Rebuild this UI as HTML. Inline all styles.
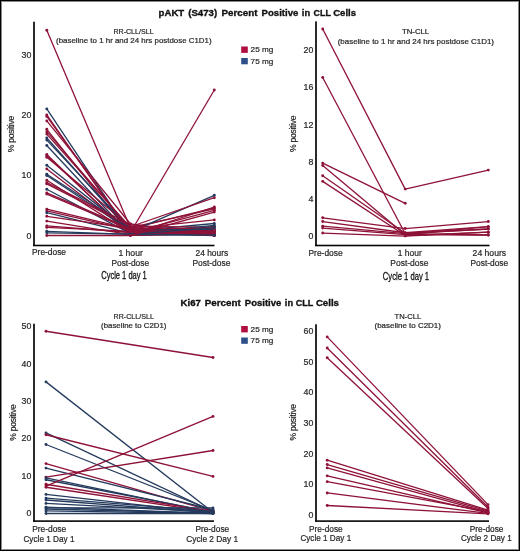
<!DOCTYPE html>
<html><head><meta charset="utf-8"><style>
html,body{margin:0;padding:0;background:#fff;}
body{width:520px;height:551px;overflow:hidden;position:relative;}
svg{position:absolute;left:0;top:0;font-family:"Liberation Sans", sans-serif;}
text{filter:grayscale(1);}
.t{stroke:#262626;stroke-width:0.2px;}
.b{position:absolute;background:#000;}
.g{position:absolute;background:#8a8a8a;}
</style></head><body>
<svg width="520" height="551" viewBox="0 0 520 551">
<rect x="0" y="0" width="520" height="551" fill="#fff"/>
<line x1="46.80" y1="108.90" x2="130.50" y2="234.66" stroke="#253b5e" stroke-width="1.3"/>
<line x1="130.50" y1="234.66" x2="214.30" y2="226.50" stroke="#253b5e" stroke-width="1.3"/>
<circle cx="46.80" cy="108.90" r="1.45" fill="#253b5e"/>
<circle cx="130.50" cy="234.66" r="1.45" fill="#253b5e"/>
<circle cx="214.30" cy="226.50" r="1.45" fill="#253b5e"/>
<line x1="46.80" y1="114.90" x2="130.50" y2="234.84" stroke="#8e1238" stroke-width="1.3"/>
<line x1="130.50" y1="234.84" x2="214.30" y2="233.10" stroke="#8e1238" stroke-width="1.3"/>
<circle cx="46.80" cy="114.90" r="1.45" fill="#8e1238"/>
<circle cx="130.50" cy="234.84" r="1.45" fill="#8e1238"/>
<circle cx="214.30" cy="233.10" r="1.45" fill="#8e1238"/>
<line x1="46.80" y1="116.40" x2="130.50" y2="232.80" stroke="#8e1238" stroke-width="1.3"/>
<line x1="130.50" y1="232.80" x2="214.30" y2="210.30" stroke="#8e1238" stroke-width="1.3"/>
<circle cx="46.80" cy="116.40" r="1.45" fill="#8e1238"/>
<circle cx="130.50" cy="232.80" r="1.45" fill="#8e1238"/>
<circle cx="214.30" cy="210.30" r="1.45" fill="#8e1238"/>
<line x1="46.80" y1="120.90" x2="130.50" y2="223.98" stroke="#8e1238" stroke-width="1.3"/>
<line x1="130.50" y1="223.98" x2="214.30" y2="234.90" stroke="#8e1238" stroke-width="1.3"/>
<circle cx="46.80" cy="120.90" r="1.45" fill="#8e1238"/>
<circle cx="130.50" cy="223.98" r="1.45" fill="#8e1238"/>
<circle cx="214.30" cy="234.90" r="1.45" fill="#8e1238"/>
<line x1="46.80" y1="129.30" x2="130.50" y2="234.30" stroke="#8e1238" stroke-width="1.3"/>
<line x1="130.50" y1="234.30" x2="214.30" y2="207.00" stroke="#8e1238" stroke-width="1.3"/>
<circle cx="46.80" cy="129.30" r="1.45" fill="#8e1238"/>
<circle cx="130.50" cy="234.30" r="1.45" fill="#8e1238"/>
<circle cx="214.30" cy="207.00" r="1.45" fill="#8e1238"/>
<line x1="46.80" y1="131.70" x2="130.50" y2="228.60" stroke="#8e1238" stroke-width="1.3"/>
<line x1="130.50" y1="228.60" x2="214.30" y2="207.90" stroke="#8e1238" stroke-width="1.3"/>
<circle cx="46.80" cy="131.70" r="1.45" fill="#8e1238"/>
<circle cx="130.50" cy="228.60" r="1.45" fill="#8e1238"/>
<circle cx="214.30" cy="207.90" r="1.45" fill="#8e1238"/>
<line x1="46.80" y1="134.10" x2="130.50" y2="227.52" stroke="#8e1238" stroke-width="1.3"/>
<line x1="130.50" y1="227.52" x2="214.30" y2="208.80" stroke="#8e1238" stroke-width="1.3"/>
<circle cx="46.80" cy="134.10" r="1.45" fill="#8e1238"/>
<circle cx="130.50" cy="227.52" r="1.45" fill="#8e1238"/>
<circle cx="214.30" cy="208.80" r="1.45" fill="#8e1238"/>
<line x1="46.80" y1="138.00" x2="130.50" y2="231.96" stroke="#253b5e" stroke-width="1.3"/>
<line x1="130.50" y1="231.96" x2="214.30" y2="195.30" stroke="#253b5e" stroke-width="1.3"/>
<circle cx="46.80" cy="138.00" r="1.45" fill="#253b5e"/>
<circle cx="130.50" cy="231.96" r="1.45" fill="#253b5e"/>
<circle cx="214.30" cy="195.30" r="1.45" fill="#253b5e"/>
<line x1="46.80" y1="140.10" x2="130.50" y2="229.20" stroke="#253b5e" stroke-width="1.3"/>
<line x1="130.50" y1="229.20" x2="214.30" y2="230.70" stroke="#253b5e" stroke-width="1.3"/>
<circle cx="46.80" cy="140.10" r="1.45" fill="#253b5e"/>
<circle cx="130.50" cy="229.20" r="1.45" fill="#253b5e"/>
<circle cx="214.30" cy="230.70" r="1.45" fill="#253b5e"/>
<line x1="46.80" y1="145.50" x2="130.50" y2="235.26" stroke="#253b5e" stroke-width="1.3"/>
<line x1="130.50" y1="235.26" x2="214.30" y2="234.30" stroke="#253b5e" stroke-width="1.3"/>
<circle cx="46.80" cy="145.50" r="1.45" fill="#253b5e"/>
<circle cx="130.50" cy="235.26" r="1.45" fill="#253b5e"/>
<circle cx="214.30" cy="234.30" r="1.45" fill="#253b5e"/>
<line x1="46.80" y1="154.50" x2="130.50" y2="235.26" stroke="#8e1238" stroke-width="1.3"/>
<line x1="130.50" y1="235.26" x2="214.30" y2="233.70" stroke="#8e1238" stroke-width="1.3"/>
<circle cx="46.80" cy="154.50" r="1.45" fill="#8e1238"/>
<circle cx="130.50" cy="235.26" r="1.45" fill="#8e1238"/>
<circle cx="214.30" cy="233.70" r="1.45" fill="#8e1238"/>
<line x1="46.80" y1="155.70" x2="130.50" y2="234.06" stroke="#8e1238" stroke-width="1.3"/>
<line x1="130.50" y1="234.06" x2="214.30" y2="231.30" stroke="#8e1238" stroke-width="1.3"/>
<circle cx="46.80" cy="155.70" r="1.45" fill="#8e1238"/>
<circle cx="130.50" cy="234.06" r="1.45" fill="#8e1238"/>
<circle cx="214.30" cy="231.30" r="1.45" fill="#8e1238"/>
<line x1="46.80" y1="157.20" x2="130.50" y2="226.74" stroke="#8e1238" stroke-width="1.3"/>
<line x1="130.50" y1="226.74" x2="214.30" y2="197.70" stroke="#8e1238" stroke-width="1.3"/>
<circle cx="46.80" cy="157.20" r="1.45" fill="#8e1238"/>
<circle cx="130.50" cy="226.74" r="1.45" fill="#8e1238"/>
<circle cx="214.30" cy="197.70" r="1.45" fill="#8e1238"/>
<line x1="46.80" y1="165.30" x2="130.50" y2="231.12" stroke="#253b5e" stroke-width="1.3"/>
<line x1="130.50" y1="231.12" x2="214.30" y2="223.50" stroke="#253b5e" stroke-width="1.3"/>
<circle cx="46.80" cy="165.30" r="1.45" fill="#253b5e"/>
<circle cx="130.50" cy="231.12" r="1.45" fill="#253b5e"/>
<circle cx="214.30" cy="223.50" r="1.45" fill="#253b5e"/>
<line x1="46.80" y1="168.90" x2="130.50" y2="232.74" stroke="#8e1238" stroke-width="1.3"/>
<line x1="130.50" y1="232.74" x2="214.30" y2="230.10" stroke="#8e1238" stroke-width="1.3"/>
<circle cx="46.80" cy="168.90" r="1.45" fill="#8e1238"/>
<circle cx="130.50" cy="232.74" r="1.45" fill="#8e1238"/>
<circle cx="214.30" cy="230.10" r="1.45" fill="#8e1238"/>
<line x1="46.80" y1="174.30" x2="130.50" y2="228.48" stroke="#253b5e" stroke-width="1.3"/>
<line x1="130.50" y1="228.48" x2="214.30" y2="232.50" stroke="#253b5e" stroke-width="1.3"/>
<circle cx="46.80" cy="174.30" r="1.45" fill="#253b5e"/>
<circle cx="130.50" cy="228.48" r="1.45" fill="#253b5e"/>
<circle cx="214.30" cy="232.50" r="1.45" fill="#253b5e"/>
<line x1="46.80" y1="175.50" x2="130.50" y2="230.76" stroke="#253b5e" stroke-width="1.3"/>
<line x1="130.50" y1="230.76" x2="214.30" y2="229.50" stroke="#253b5e" stroke-width="1.3"/>
<circle cx="46.80" cy="175.50" r="1.45" fill="#253b5e"/>
<circle cx="130.50" cy="230.76" r="1.45" fill="#253b5e"/>
<circle cx="214.30" cy="229.50" r="1.45" fill="#253b5e"/>
<line x1="46.80" y1="180.30" x2="130.50" y2="232.92" stroke="#8e1238" stroke-width="1.3"/>
<line x1="130.50" y1="232.92" x2="214.30" y2="232.50" stroke="#8e1238" stroke-width="1.3"/>
<circle cx="46.80" cy="180.30" r="1.45" fill="#8e1238"/>
<circle cx="130.50" cy="232.92" r="1.45" fill="#8e1238"/>
<circle cx="214.30" cy="232.50" r="1.45" fill="#8e1238"/>
<line x1="46.80" y1="182.70" x2="130.50" y2="224.46" stroke="#8e1238" stroke-width="1.3"/>
<line x1="130.50" y1="224.46" x2="214.30" y2="235.50" stroke="#8e1238" stroke-width="1.3"/>
<circle cx="46.80" cy="182.70" r="1.45" fill="#8e1238"/>
<circle cx="130.50" cy="224.46" r="1.45" fill="#8e1238"/>
<circle cx="214.30" cy="235.50" r="1.45" fill="#8e1238"/>
<line x1="46.80" y1="183.90" x2="130.50" y2="226.38" stroke="#8e1238" stroke-width="1.3"/>
<line x1="130.50" y1="226.38" x2="214.30" y2="227.10" stroke="#8e1238" stroke-width="1.3"/>
<circle cx="46.80" cy="183.90" r="1.45" fill="#8e1238"/>
<circle cx="130.50" cy="226.38" r="1.45" fill="#8e1238"/>
<circle cx="214.30" cy="227.10" r="1.45" fill="#8e1238"/>
<line x1="46.80" y1="189.30" x2="130.50" y2="233.64" stroke="#253b5e" stroke-width="1.3"/>
<line x1="130.50" y1="233.64" x2="214.30" y2="235.50" stroke="#253b5e" stroke-width="1.3"/>
<circle cx="46.80" cy="189.30" r="1.45" fill="#253b5e"/>
<circle cx="130.50" cy="233.64" r="1.45" fill="#253b5e"/>
<circle cx="214.30" cy="235.50" r="1.45" fill="#253b5e"/>
<line x1="46.80" y1="192.90" x2="130.50" y2="228.72" stroke="#8e1238" stroke-width="1.3"/>
<line x1="130.50" y1="228.72" x2="214.30" y2="219.90" stroke="#8e1238" stroke-width="1.3"/>
<circle cx="46.80" cy="192.90" r="1.45" fill="#8e1238"/>
<circle cx="130.50" cy="228.72" r="1.45" fill="#8e1238"/>
<circle cx="214.30" cy="219.90" r="1.45" fill="#8e1238"/>
<line x1="46.80" y1="194.10" x2="130.50" y2="229.56" stroke="#8e1238" stroke-width="1.3"/>
<line x1="130.50" y1="229.56" x2="214.30" y2="231.90" stroke="#8e1238" stroke-width="1.3"/>
<circle cx="46.80" cy="194.10" r="1.45" fill="#8e1238"/>
<circle cx="130.50" cy="229.56" r="1.45" fill="#8e1238"/>
<circle cx="214.30" cy="231.90" r="1.45" fill="#8e1238"/>
<line x1="46.80" y1="209.10" x2="130.50" y2="229.20" stroke="#8e1238" stroke-width="1.3"/>
<line x1="130.50" y1="229.20" x2="214.30" y2="234.60" stroke="#8e1238" stroke-width="1.3"/>
<circle cx="46.80" cy="209.10" r="1.45" fill="#8e1238"/>
<circle cx="130.50" cy="229.20" r="1.45" fill="#8e1238"/>
<circle cx="214.30" cy="234.60" r="1.45" fill="#8e1238"/>
<line x1="46.80" y1="210.90" x2="130.50" y2="230.22" stroke="#8e1238" stroke-width="1.3"/>
<line x1="130.50" y1="230.22" x2="214.30" y2="235.50" stroke="#8e1238" stroke-width="1.3"/>
<circle cx="46.80" cy="210.90" r="1.45" fill="#8e1238"/>
<circle cx="130.50" cy="230.22" r="1.45" fill="#8e1238"/>
<circle cx="214.30" cy="235.50" r="1.45" fill="#8e1238"/>
<line x1="46.80" y1="212.70" x2="130.50" y2="233.40" stroke="#253b5e" stroke-width="1.3"/>
<line x1="130.50" y1="233.40" x2="214.30" y2="225.30" stroke="#253b5e" stroke-width="1.3"/>
<circle cx="46.80" cy="212.70" r="1.45" fill="#253b5e"/>
<circle cx="130.50" cy="233.40" r="1.45" fill="#253b5e"/>
<circle cx="214.30" cy="225.30" r="1.45" fill="#253b5e"/>
<line x1="46.80" y1="216.30" x2="130.50" y2="228.42" stroke="#8e1238" stroke-width="1.3"/>
<line x1="130.50" y1="228.42" x2="214.30" y2="228.30" stroke="#8e1238" stroke-width="1.3"/>
<circle cx="46.80" cy="216.30" r="1.45" fill="#8e1238"/>
<circle cx="130.50" cy="228.42" r="1.45" fill="#8e1238"/>
<circle cx="214.30" cy="228.30" r="1.45" fill="#8e1238"/>
<line x1="46.80" y1="221.10" x2="130.50" y2="234.66" stroke="#8e1238" stroke-width="1.3"/>
<line x1="130.50" y1="234.66" x2="214.30" y2="234.30" stroke="#8e1238" stroke-width="1.3"/>
<circle cx="46.80" cy="221.10" r="1.45" fill="#8e1238"/>
<circle cx="130.50" cy="234.66" r="1.45" fill="#8e1238"/>
<circle cx="214.30" cy="234.30" r="1.45" fill="#8e1238"/>
<line x1="46.80" y1="225.90" x2="130.50" y2="232.50" stroke="#8e1238" stroke-width="1.3"/>
<line x1="130.50" y1="232.50" x2="214.30" y2="235.20" stroke="#8e1238" stroke-width="1.3"/>
<circle cx="46.80" cy="225.90" r="1.45" fill="#8e1238"/>
<circle cx="130.50" cy="232.50" r="1.45" fill="#8e1238"/>
<circle cx="214.30" cy="235.20" r="1.45" fill="#8e1238"/>
<line x1="46.80" y1="227.40" x2="130.50" y2="231.42" stroke="#8e1238" stroke-width="1.3"/>
<line x1="130.50" y1="231.42" x2="214.30" y2="230.70" stroke="#8e1238" stroke-width="1.3"/>
<circle cx="46.80" cy="227.40" r="1.45" fill="#8e1238"/>
<circle cx="130.50" cy="231.42" r="1.45" fill="#8e1238"/>
<circle cx="214.30" cy="230.70" r="1.45" fill="#8e1238"/>
<line x1="46.80" y1="231.30" x2="130.50" y2="234.42" stroke="#253b5e" stroke-width="1.3"/>
<line x1="130.50" y1="234.42" x2="214.30" y2="227.70" stroke="#253b5e" stroke-width="1.3"/>
<circle cx="46.80" cy="231.30" r="1.45" fill="#253b5e"/>
<circle cx="130.50" cy="234.42" r="1.45" fill="#253b5e"/>
<circle cx="214.30" cy="227.70" r="1.45" fill="#253b5e"/>
<line x1="46.80" y1="232.80" x2="130.50" y2="234.12" stroke="#253b5e" stroke-width="1.3"/>
<line x1="130.50" y1="234.12" x2="214.30" y2="235.15" stroke="#253b5e" stroke-width="1.3"/>
<circle cx="46.80" cy="232.80" r="1.45" fill="#253b5e"/>
<circle cx="130.50" cy="234.12" r="1.45" fill="#253b5e"/>
<circle cx="214.30" cy="235.15" r="1.45" fill="#253b5e"/>
<line x1="46.80" y1="235.50" x2="130.50" y2="235.50" stroke="#8e1238" stroke-width="1.3"/>
<line x1="130.50" y1="235.50" x2="214.30" y2="212.10" stroke="#8e1238" stroke-width="1.3"/>
<circle cx="46.80" cy="235.50" r="1.45" fill="#8e1238"/>
<circle cx="130.50" cy="235.50" r="1.45" fill="#8e1238"/>
<circle cx="214.30" cy="212.10" r="1.45" fill="#8e1238"/>
<line x1="46.80" y1="30.30" x2="130.50" y2="228.30" stroke="#8e1238" stroke-width="1.3"/>
<circle cx="46.80" cy="30.30" r="1.45" fill="#8e1238"/>
<circle cx="130.50" cy="228.30" r="1.45" fill="#8e1238"/>
<line x1="130.50" y1="232.50" x2="214.30" y2="90.00" stroke="#8e1238" stroke-width="1.3"/>
<circle cx="214.30" cy="90.00" r="1.45" fill="#8e1238"/>
<line x1="322.70" y1="28.93" x2="405.20" y2="189.10" stroke="#8e1238" stroke-width="1.3"/>
<line x1="405.20" y1="189.10" x2="488.30" y2="170.12" stroke="#8e1238" stroke-width="1.3"/>
<circle cx="322.70" cy="28.93" r="1.45" fill="#8e1238"/>
<circle cx="405.20" cy="189.10" r="1.45" fill="#8e1238"/>
<circle cx="488.30" cy="170.12" r="1.45" fill="#8e1238"/>
<line x1="322.70" y1="77.55" x2="405.20" y2="233.69" stroke="#8e1238" stroke-width="1.3"/>
<line x1="405.20" y1="233.69" x2="488.30" y2="235.00" stroke="#8e1238" stroke-width="1.3"/>
<circle cx="322.70" cy="77.55" r="1.45" fill="#8e1238"/>
<circle cx="405.20" cy="233.69" r="1.45" fill="#8e1238"/>
<circle cx="488.30" cy="235.00" r="1.45" fill="#8e1238"/>
<line x1="322.70" y1="163.10" x2="405.20" y2="203.31" stroke="#8e1238" stroke-width="1.3"/>
<circle cx="322.70" cy="163.10" r="1.45" fill="#8e1238"/>
<circle cx="405.20" cy="203.31" r="1.45" fill="#8e1238"/>
<line x1="322.70" y1="165.44" x2="405.20" y2="234.63" stroke="#8e1238" stroke-width="1.3"/>
<line x1="405.20" y1="234.63" x2="488.30" y2="226.68" stroke="#8e1238" stroke-width="1.3"/>
<circle cx="322.70" cy="165.44" r="1.45" fill="#8e1238"/>
<circle cx="405.20" cy="234.63" r="1.45" fill="#8e1238"/>
<circle cx="488.30" cy="226.68" r="1.45" fill="#8e1238"/>
<line x1="322.70" y1="175.72" x2="405.20" y2="233.23" stroke="#8e1238" stroke-width="1.3"/>
<line x1="405.20" y1="233.23" x2="488.30" y2="229.02" stroke="#8e1238" stroke-width="1.3"/>
<circle cx="322.70" cy="175.72" r="1.45" fill="#8e1238"/>
<circle cx="405.20" cy="233.23" r="1.45" fill="#8e1238"/>
<circle cx="488.30" cy="229.02" r="1.45" fill="#8e1238"/>
<line x1="322.70" y1="181.34" x2="405.20" y2="235.56" stroke="#8e1238" stroke-width="1.3"/>
<line x1="405.20" y1="235.56" x2="488.30" y2="232.20" stroke="#8e1238" stroke-width="1.3"/>
<circle cx="322.70" cy="181.34" r="1.45" fill="#8e1238"/>
<circle cx="405.20" cy="235.56" r="1.45" fill="#8e1238"/>
<circle cx="488.30" cy="232.20" r="1.45" fill="#8e1238"/>
<line x1="322.70" y1="217.80" x2="405.20" y2="228.55" stroke="#8e1238" stroke-width="1.3"/>
<line x1="405.20" y1="228.55" x2="488.30" y2="221.54" stroke="#8e1238" stroke-width="1.3"/>
<circle cx="322.70" cy="217.80" r="1.45" fill="#8e1238"/>
<circle cx="405.20" cy="228.55" r="1.45" fill="#8e1238"/>
<circle cx="488.30" cy="221.54" r="1.45" fill="#8e1238"/>
<line x1="322.70" y1="221.54" x2="405.20" y2="232.76" stroke="#8e1238" stroke-width="1.3"/>
<line x1="405.20" y1="232.76" x2="488.30" y2="226.68" stroke="#8e1238" stroke-width="1.3"/>
<circle cx="322.70" cy="221.54" r="1.45" fill="#8e1238"/>
<circle cx="405.20" cy="232.76" r="1.45" fill="#8e1238"/>
<circle cx="488.30" cy="226.68" r="1.45" fill="#8e1238"/>
<line x1="322.70" y1="226.22" x2="405.20" y2="233.69" stroke="#8e1238" stroke-width="1.3"/>
<line x1="405.20" y1="233.69" x2="488.30" y2="229.02" stroke="#8e1238" stroke-width="1.3"/>
<circle cx="322.70" cy="226.22" r="1.45" fill="#8e1238"/>
<circle cx="405.20" cy="233.69" r="1.45" fill="#8e1238"/>
<circle cx="488.30" cy="229.02" r="1.45" fill="#8e1238"/>
<line x1="322.70" y1="228.09" x2="405.20" y2="234.63" stroke="#8e1238" stroke-width="1.3"/>
<line x1="405.20" y1="234.63" x2="488.30" y2="235.00" stroke="#8e1238" stroke-width="1.3"/>
<circle cx="322.70" cy="228.09" r="1.45" fill="#8e1238"/>
<circle cx="405.20" cy="234.63" r="1.45" fill="#8e1238"/>
<circle cx="488.30" cy="235.00" r="1.45" fill="#8e1238"/>
<line x1="322.70" y1="233.04" x2="405.20" y2="236.03" stroke="#8e1238" stroke-width="1.3"/>
<line x1="405.20" y1="236.03" x2="488.30" y2="232.20" stroke="#8e1238" stroke-width="1.3"/>
<circle cx="322.70" cy="233.04" r="1.45" fill="#8e1238"/>
<circle cx="405.20" cy="236.03" r="1.45" fill="#8e1238"/>
<circle cx="488.30" cy="232.20" r="1.45" fill="#8e1238"/>
<line x1="46.00" y1="331.25" x2="213.00" y2="357.50" stroke="#8e1238" stroke-width="1.3"/>
<circle cx="46.00" cy="331.25" r="1.45" fill="#8e1238"/>
<circle cx="213.00" cy="357.50" r="1.45" fill="#8e1238"/>
<line x1="46.00" y1="381.88" x2="213.00" y2="512.38" stroke="#253b5e" stroke-width="1.3"/>
<circle cx="46.00" cy="381.88" r="1.45" fill="#253b5e"/>
<circle cx="213.00" cy="512.38" r="1.45" fill="#253b5e"/>
<line x1="46.00" y1="432.88" x2="213.00" y2="511.62" stroke="#253b5e" stroke-width="1.3"/>
<circle cx="46.00" cy="432.88" r="1.45" fill="#253b5e"/>
<circle cx="213.00" cy="511.62" r="1.45" fill="#253b5e"/>
<line x1="46.00" y1="434.75" x2="213.00" y2="476.38" stroke="#8e1238" stroke-width="1.3"/>
<circle cx="46.00" cy="434.75" r="1.45" fill="#8e1238"/>
<circle cx="213.00" cy="476.38" r="1.45" fill="#8e1238"/>
<line x1="46.00" y1="444.50" x2="213.00" y2="510.50" stroke="#253b5e" stroke-width="1.3"/>
<circle cx="46.00" cy="444.50" r="1.45" fill="#253b5e"/>
<circle cx="213.00" cy="510.50" r="1.45" fill="#253b5e"/>
<line x1="46.00" y1="463.62" x2="213.00" y2="511.25" stroke="#8e1238" stroke-width="1.3"/>
<circle cx="46.00" cy="463.62" r="1.45" fill="#8e1238"/>
<circle cx="213.00" cy="511.25" r="1.45" fill="#8e1238"/>
<line x1="46.00" y1="468.12" x2="213.00" y2="509.75" stroke="#253b5e" stroke-width="1.3"/>
<circle cx="46.00" cy="468.12" r="1.45" fill="#253b5e"/>
<circle cx="213.00" cy="509.75" r="1.45" fill="#253b5e"/>
<line x1="46.00" y1="477.12" x2="213.00" y2="450.50" stroke="#8e1238" stroke-width="1.3"/>
<circle cx="46.00" cy="477.12" r="1.45" fill="#8e1238"/>
<circle cx="213.00" cy="450.50" r="1.45" fill="#8e1238"/>
<line x1="46.00" y1="477.88" x2="213.00" y2="512.75" stroke="#253b5e" stroke-width="1.3"/>
<circle cx="46.00" cy="477.88" r="1.45" fill="#253b5e"/>
<circle cx="213.00" cy="512.75" r="1.45" fill="#253b5e"/>
<line x1="46.00" y1="479.75" x2="213.00" y2="512.00" stroke="#253b5e" stroke-width="1.3"/>
<circle cx="46.00" cy="479.75" r="1.45" fill="#253b5e"/>
<circle cx="213.00" cy="512.00" r="1.45" fill="#253b5e"/>
<line x1="46.00" y1="484.25" x2="213.00" y2="511.62" stroke="#8e1238" stroke-width="1.3"/>
<circle cx="46.00" cy="484.25" r="1.45" fill="#8e1238"/>
<circle cx="213.00" cy="511.62" r="1.45" fill="#8e1238"/>
<line x1="46.00" y1="486.12" x2="213.00" y2="416.38" stroke="#8e1238" stroke-width="1.3"/>
<circle cx="46.00" cy="486.12" r="1.45" fill="#8e1238"/>
<circle cx="213.00" cy="416.38" r="1.45" fill="#8e1238"/>
<line x1="46.00" y1="487.25" x2="213.00" y2="512.38" stroke="#8e1238" stroke-width="1.3"/>
<circle cx="46.00" cy="487.25" r="1.45" fill="#8e1238"/>
<circle cx="213.00" cy="512.38" r="1.45" fill="#8e1238"/>
<line x1="46.00" y1="494.38" x2="213.00" y2="513.12" stroke="#253b5e" stroke-width="1.3"/>
<circle cx="46.00" cy="494.38" r="1.45" fill="#253b5e"/>
<circle cx="213.00" cy="513.12" r="1.45" fill="#253b5e"/>
<line x1="46.00" y1="498.12" x2="213.00" y2="511.25" stroke="#253b5e" stroke-width="1.3"/>
<circle cx="46.00" cy="498.12" r="1.45" fill="#253b5e"/>
<circle cx="213.00" cy="511.25" r="1.45" fill="#253b5e"/>
<line x1="46.00" y1="500.00" x2="213.00" y2="512.75" stroke="#253b5e" stroke-width="1.3"/>
<circle cx="46.00" cy="500.00" r="1.45" fill="#253b5e"/>
<circle cx="213.00" cy="512.75" r="1.45" fill="#253b5e"/>
<line x1="46.00" y1="503.38" x2="213.00" y2="512.00" stroke="#253b5e" stroke-width="1.3"/>
<circle cx="46.00" cy="503.38" r="1.45" fill="#253b5e"/>
<circle cx="213.00" cy="512.00" r="1.45" fill="#253b5e"/>
<line x1="46.00" y1="507.12" x2="213.00" y2="513.50" stroke="#253b5e" stroke-width="1.3"/>
<circle cx="46.00" cy="507.12" r="1.45" fill="#253b5e"/>
<circle cx="213.00" cy="513.50" r="1.45" fill="#253b5e"/>
<line x1="46.00" y1="509.00" x2="213.00" y2="513.12" stroke="#253b5e" stroke-width="1.3"/>
<circle cx="46.00" cy="509.00" r="1.45" fill="#253b5e"/>
<circle cx="213.00" cy="513.12" r="1.45" fill="#253b5e"/>
<line x1="46.00" y1="510.88" x2="213.00" y2="513.50" stroke="#253b5e" stroke-width="1.3"/>
<circle cx="46.00" cy="510.88" r="1.45" fill="#253b5e"/>
<circle cx="213.00" cy="513.50" r="1.45" fill="#253b5e"/>
<line x1="46.00" y1="513.50" x2="213.00" y2="513.50" stroke="#253b5e" stroke-width="1.3"/>
<circle cx="46.00" cy="513.50" r="1.45" fill="#253b5e"/>
<circle cx="213.00" cy="513.50" r="1.45" fill="#253b5e"/>
<line x1="46.00" y1="507.88" x2="213.00" y2="507.88" stroke="#253b5e" stroke-width="1.3"/>
<circle cx="46.00" cy="507.88" r="1.45" fill="#253b5e"/>
<circle cx="213.00" cy="507.88" r="1.45" fill="#253b5e"/>
<line x1="327.20" y1="336.91" x2="488.00" y2="504.60" stroke="#8e1238" stroke-width="1.3"/>
<circle cx="327.20" cy="336.91" r="1.45" fill="#8e1238"/>
<circle cx="488.00" cy="504.60" r="1.45" fill="#8e1238"/>
<line x1="327.20" y1="347.93" x2="488.00" y2="507.05" stroke="#8e1238" stroke-width="1.3"/>
<circle cx="327.20" cy="347.93" r="1.45" fill="#8e1238"/>
<circle cx="488.00" cy="507.05" r="1.45" fill="#8e1238"/>
<line x1="327.20" y1="357.72" x2="488.00" y2="508.58" stroke="#8e1238" stroke-width="1.3"/>
<circle cx="327.20" cy="357.72" r="1.45" fill="#8e1238"/>
<circle cx="488.00" cy="508.58" r="1.45" fill="#8e1238"/>
<line x1="327.20" y1="460.23" x2="488.00" y2="510.11" stroke="#8e1238" stroke-width="1.3"/>
<circle cx="327.20" cy="460.23" r="1.45" fill="#8e1238"/>
<circle cx="488.00" cy="510.11" r="1.45" fill="#8e1238"/>
<line x1="327.20" y1="464.52" x2="488.00" y2="511.03" stroke="#8e1238" stroke-width="1.3"/>
<circle cx="327.20" cy="464.52" r="1.45" fill="#8e1238"/>
<circle cx="488.00" cy="511.03" r="1.45" fill="#8e1238"/>
<line x1="327.20" y1="467.88" x2="488.00" y2="512.25" stroke="#8e1238" stroke-width="1.3"/>
<circle cx="327.20" cy="467.88" r="1.45" fill="#8e1238"/>
<circle cx="488.00" cy="512.25" r="1.45" fill="#8e1238"/>
<line x1="327.20" y1="475.84" x2="488.00" y2="512.86" stroke="#8e1238" stroke-width="1.3"/>
<circle cx="327.20" cy="475.84" r="1.45" fill="#8e1238"/>
<circle cx="488.00" cy="512.86" r="1.45" fill="#8e1238"/>
<line x1="327.20" y1="481.65" x2="488.00" y2="511.64" stroke="#8e1238" stroke-width="1.3"/>
<circle cx="327.20" cy="481.65" r="1.45" fill="#8e1238"/>
<circle cx="488.00" cy="511.64" r="1.45" fill="#8e1238"/>
<line x1="327.20" y1="492.97" x2="488.00" y2="513.48" stroke="#8e1238" stroke-width="1.3"/>
<circle cx="327.20" cy="492.97" r="1.45" fill="#8e1238"/>
<circle cx="488.00" cy="513.48" r="1.45" fill="#8e1238"/>
<line x1="327.20" y1="505.52" x2="488.00" y2="513.78" stroke="#8e1238" stroke-width="1.3"/>
<circle cx="327.20" cy="505.52" r="1.45" fill="#8e1238"/>
<circle cx="488.00" cy="513.78" r="1.45" fill="#8e1238"/>
<rect x="33" y="21.7" width="2" height="224.0" fill="#2a2a2a"/>
<rect x="33" y="244.7" width="181.5" height="1.6" fill="#050505"/>
<rect x="315" y="21.4" width="2" height="224.29999999999998" fill="#2a2a2a"/>
<rect x="315" y="244.7" width="174.5" height="1.6" fill="#050505"/>
<rect x="33" y="323.7" width="2" height="197.59999999999997" fill="#2a2a2a"/>
<rect x="33" y="520.3" width="181" height="1.6" fill="#050505"/>
<rect x="315" y="324.3" width="2" height="196.99999999999994" fill="#2a2a2a"/>
<rect x="315" y="520.3" width="174" height="1.6" fill="#050505"/>
<text class="t" x="31.3" y="238.5" font-size="8.8" text-anchor="end" fill="#262626" font-weight="normal" >0</text>
<text class="t" x="31.3" y="178.35" font-size="8.8" text-anchor="end" fill="#262626" font-weight="normal" >10</text>
<text class="t" x="31.3" y="118.2" font-size="8.8" text-anchor="end" fill="#262626" font-weight="normal" >20</text>
<text class="t" x="31.3" y="58.05" font-size="8.8" text-anchor="end" fill="#262626" font-weight="normal" >30</text>
<text class="t" x="313.4" y="239.4" font-size="8.8" text-anchor="end" fill="#262626" font-weight="normal" >0</text>
<text class="t" x="313.4" y="202.1" font-size="8.8" text-anchor="end" fill="#262626" font-weight="normal" >4</text>
<text class="t" x="313.4" y="164.8" font-size="8.8" text-anchor="end" fill="#262626" font-weight="normal" >8</text>
<text class="t" x="313.4" y="127.5" font-size="8.8" text-anchor="end" fill="#262626" font-weight="normal" >12</text>
<text class="t" x="313.4" y="90.2" font-size="8.8" text-anchor="end" fill="#262626" font-weight="normal" >16</text>
<text class="t" x="313.4" y="52.9" font-size="8.8" text-anchor="end" fill="#262626" font-weight="normal" >20</text>
<text class="t" x="31.3" y="516.1" font-size="8.8" text-anchor="end" fill="#262626" font-weight="normal" >0</text>
<text class="t" x="31.3" y="478.7" font-size="8.8" text-anchor="end" fill="#262626" font-weight="normal" >10</text>
<text class="t" x="31.3" y="441.3" font-size="8.8" text-anchor="end" fill="#262626" font-weight="normal" >20</text>
<text class="t" x="31.3" y="403.9" font-size="8.8" text-anchor="end" fill="#262626" font-weight="normal" >30</text>
<text class="t" x="31.3" y="366.5" font-size="8.8" text-anchor="end" fill="#262626" font-weight="normal" >40</text>
<text class="t" x="31.3" y="329.1" font-size="8.8" text-anchor="end" fill="#262626" font-weight="normal" >50</text>
<text class="t" x="313.4" y="518.1" font-size="8.8" text-anchor="end" fill="#262626" font-weight="normal" >0</text>
<text class="t" x="313.4" y="487.4" font-size="8.8" text-anchor="end" fill="#262626" font-weight="normal" >10</text>
<text class="t" x="313.4" y="456.7" font-size="8.8" text-anchor="end" fill="#262626" font-weight="normal" >20</text>
<text class="t" x="313.4" y="426.0" font-size="8.8" text-anchor="end" fill="#262626" font-weight="normal" >30</text>
<text class="t" x="313.4" y="395.3" font-size="8.8" text-anchor="end" fill="#262626" font-weight="normal" >40</text>
<text class="t" x="313.4" y="364.6" font-size="8.8" text-anchor="end" fill="#262626" font-weight="normal" >50</text>
<text class="t" x="313.4" y="333.9" font-size="8.8" text-anchor="end" fill="#262626" font-weight="normal" >60</text>
<text class="t" x="49.00" y="255.4" font-size="8.3" text-anchor="middle" fill="#262626" font-weight="normal" textLength="34.00" lengthAdjust="spacingAndGlyphs" >Pre-dose</text>
<text class="t" x="130.60" y="255.5" font-size="8.3" text-anchor="middle" fill="#262626" font-weight="normal" textLength="24.40" lengthAdjust="spacingAndGlyphs" >1 hour</text>
<text class="t" x="130.25" y="265.8" font-size="8.3" text-anchor="middle" fill="#262626" font-weight="normal" textLength="37.70" lengthAdjust="spacingAndGlyphs" >Post-dose</text>
<text class="t" x="211.85" y="255.5" font-size="8.3" text-anchor="middle" fill="#262626" font-weight="normal" textLength="32.70" lengthAdjust="spacingAndGlyphs" >24 hours</text>
<text class="t" x="211.40" y="265.8" font-size="8.3" text-anchor="middle" fill="#262626" font-weight="normal" textLength="38.00" lengthAdjust="spacingAndGlyphs" >Post-dose</text>
<text x="124.00" y="279.3" font-size="10.4" text-anchor="middle" fill="#111" font-weight="normal" textLength="45.60" lengthAdjust="spacingAndGlyphs" stroke="#111" stroke-width="0.3">Cycle 1 day 1</text>
<text class="t" x="325.60" y="255.5" font-size="8.3" text-anchor="middle" fill="#262626" font-weight="normal" textLength="34.20" lengthAdjust="spacingAndGlyphs" >Pre-dose</text>
<text class="t" x="409.80" y="255.5" font-size="8.3" text-anchor="middle" fill="#262626" font-weight="normal" textLength="24.00" lengthAdjust="spacingAndGlyphs" >1 hour</text>
<text class="t" x="409.40" y="265.8" font-size="8.3" text-anchor="middle" fill="#262626" font-weight="normal" textLength="38.20" lengthAdjust="spacingAndGlyphs" >Post-dose</text>
<text class="t" x="489.35" y="255.5" font-size="8.3" text-anchor="middle" fill="#262626" font-weight="normal" textLength="33.50" lengthAdjust="spacingAndGlyphs" >24 hours</text>
<text class="t" x="489.35" y="265.8" font-size="8.3" text-anchor="middle" fill="#262626" font-weight="normal" textLength="37.70" lengthAdjust="spacingAndGlyphs" >Post-dose</text>
<text x="405.95" y="280.0" font-size="10.4" text-anchor="middle" fill="#111" font-weight="normal" textLength="46.30" lengthAdjust="spacingAndGlyphs" stroke="#111" stroke-width="0.3">Cycle 1 day 1</text>
<text class="t" x="49.20" y="532.0" font-size="8.3" text-anchor="middle" fill="#262626" font-weight="normal" textLength="34.00" lengthAdjust="spacingAndGlyphs" >Pre-dose</text>
<text class="t" x="49.00" y="541.5" font-size="8.3" text-anchor="middle" fill="#262626" font-weight="normal" textLength="51.20" lengthAdjust="spacingAndGlyphs" >Cycle 1 Day 1</text>
<text class="t" x="212.30" y="532.0" font-size="8.3" text-anchor="middle" fill="#262626" font-weight="normal" textLength="33.80" lengthAdjust="spacingAndGlyphs" >Pre-dose</text>
<text class="t" x="212.15" y="541.5" font-size="8.3" text-anchor="middle" fill="#262626" font-weight="normal" textLength="51.90" lengthAdjust="spacingAndGlyphs" >Cycle 2 Day 1</text>
<text class="t" x="325.90" y="531.9" font-size="8.3" text-anchor="middle" fill="#262626" font-weight="normal" textLength="33.60" lengthAdjust="spacingAndGlyphs" >Pre-dose</text>
<text class="t" x="325.80" y="541.2" font-size="8.3" text-anchor="middle" fill="#262626" font-weight="normal" textLength="50.80" lengthAdjust="spacingAndGlyphs" >Cycle 1 Day 1</text>
<text class="t" x="486.60" y="531.9" font-size="8.3" text-anchor="middle" fill="#262626" font-weight="normal" textLength="33.80" lengthAdjust="spacingAndGlyphs" >Pre-dose</text>
<text class="t" x="486.35" y="541.2" font-size="8.3" text-anchor="middle" fill="#262626" font-weight="normal" textLength="50.90" lengthAdjust="spacingAndGlyphs" >Cycle 2 Day 1</text>
<text class="t" x="133.50" y="34.0" font-size="7.2" text-anchor="middle" fill="#262626" font-weight="normal" textLength="40.20" lengthAdjust="spacingAndGlyphs" >RR-CLL/SLL</text>
<text class="t" x="133.85" y="43.3" font-size="7.2" text-anchor="middle" fill="#262626" font-weight="normal" textLength="155.50" lengthAdjust="spacingAndGlyphs" >(baseline to 1 hr and 24 hrs postdose C1D1)</text>
<text class="t" x="415.55" y="34.4" font-size="7.2" text-anchor="middle" fill="#262626" font-weight="normal" textLength="27.30" lengthAdjust="spacingAndGlyphs" >TN-CLL</text>
<text class="t" x="415.85" y="43.5" font-size="7.2" text-anchor="middle" fill="#262626" font-weight="normal" textLength="156.30" lengthAdjust="spacingAndGlyphs" >(baseline to 1 hr and 24 hrs postdose C1D1)</text>
<text class="t" x="133.75" y="318.7" font-size="7.2" text-anchor="middle" fill="#262626" font-weight="normal" textLength="40.30" lengthAdjust="spacingAndGlyphs" >RR-CLL/SLL</text>
<text class="t" x="133.75" y="328.3" font-size="7.2" text-anchor="middle" fill="#262626" font-weight="normal" textLength="65.30" lengthAdjust="spacingAndGlyphs" >(baseline to C2D1)</text>
<text class="t" x="407.85" y="318.8" font-size="7.2" text-anchor="middle" fill="#262626" font-weight="normal" textLength="26.70" lengthAdjust="spacingAndGlyphs" >TN-CLL</text>
<text class="t" x="407.70" y="327.7" font-size="7.2" text-anchor="middle" fill="#262626" font-weight="normal" textLength="66.40" lengthAdjust="spacingAndGlyphs" >(baseline to C2D1)</text>
<text class="t" x="0" y="0" font-size="8.6" text-anchor="middle" fill="#262626" textLength="36.5" lengthAdjust="spacing" transform="translate(14.2,134) rotate(-90)">% positive</text>
<text class="t" x="0" y="0" font-size="8.6" text-anchor="middle" fill="#262626" textLength="36.5" lengthAdjust="spacing" transform="translate(296,133.7) rotate(-90)">% positive</text>
<text class="t" x="0" y="0" font-size="8.6" text-anchor="middle" fill="#262626" textLength="36.5" lengthAdjust="spacing" transform="translate(16,422.5) rotate(-90)">% positive</text>
<text class="t" x="0" y="0" font-size="8.6" text-anchor="middle" fill="#262626" textLength="36.5" lengthAdjust="spacing" transform="translate(296.3,422.3) rotate(-90)">% positive</text>
<rect x="241.2" y="46.5" width="6.6" height="6.4" fill="#b01040"/>
<rect x="241.2" y="58.0" width="6.6" height="6.3" fill="#2d5088"/>
<text class="t" x="261.95" y="52.4" font-size="8.0" text-anchor="middle" fill="#262626" font-weight="normal" textLength="22.70" lengthAdjust="spacingAndGlyphs" >25 mg</text>
<text class="t" x="261.95" y="63.9" font-size="8.0" text-anchor="middle" fill="#262626" font-weight="normal" textLength="22.70" lengthAdjust="spacingAndGlyphs" >75 mg</text>
<rect x="241.2" y="326.0" width="6.6" height="6.4" fill="#b01040"/>
<rect x="241.2" y="337.5" width="6.6" height="6.3" fill="#2d5088"/>
<text class="t" x="261.95" y="331.9" font-size="8.0" text-anchor="middle" fill="#262626" font-weight="normal" textLength="22.70" lengthAdjust="spacingAndGlyphs" >25 mg</text>
<text class="t" x="261.95" y="343.4" font-size="8.0" text-anchor="middle" fill="#262626" font-weight="normal" textLength="22.70" lengthAdjust="spacingAndGlyphs" >75 mg</text>
<text x="171.40" y="15.8" font-size="9.9" text-anchor="middle" fill="#111" font-weight="bold" textLength="25.60" lengthAdjust="spacingAndGlyphs" stroke="#111" stroke-width="0.35">pAKT</text>
<text x="202.65" y="15.8" font-size="9.9" text-anchor="middle" fill="#111" font-weight="bold" textLength="28.90" lengthAdjust="spacingAndGlyphs" stroke="#111" stroke-width="0.35">(S473)</text>
<text x="239.55" y="15.8" font-size="9.9" text-anchor="middle" fill="#111" font-weight="bold" textLength="35.90" lengthAdjust="spacingAndGlyphs" stroke="#111" stroke-width="0.35">Percent</text>
<text x="280.00" y="15.8" font-size="9.9" text-anchor="middle" fill="#111" font-weight="bold" textLength="36.80" lengthAdjust="spacingAndGlyphs" stroke="#111" stroke-width="0.35">Positive</text>
<text x="305.95" y="15.8" font-size="9.9" text-anchor="middle" fill="#111" font-weight="bold" textLength="8.30" lengthAdjust="spacingAndGlyphs" stroke="#111" stroke-width="0.35">in</text>
<text x="322.20" y="15.8" font-size="9.9" text-anchor="middle" fill="#111" font-weight="bold" textLength="17.20" lengthAdjust="spacingAndGlyphs" stroke="#111" stroke-width="0.35">CLL</text>
<text x="344.65" y="15.8" font-size="9.9" text-anchor="middle" fill="#111" font-weight="bold" textLength="22.90" lengthAdjust="spacingAndGlyphs" stroke="#111" stroke-width="0.35">Cells</text>
<text x="190.70" y="306.2" font-size="9.9" text-anchor="middle" fill="#111" font-weight="bold" textLength="20.40" lengthAdjust="spacingAndGlyphs" stroke="#111" stroke-width="0.35">Ki67</text>
<text x="222.70" y="306.2" font-size="9.9" text-anchor="middle" fill="#111" font-weight="bold" textLength="36.00" lengthAdjust="spacingAndGlyphs" stroke="#111" stroke-width="0.35">Percent</text>
<text x="263.05" y="306.2" font-size="9.9" text-anchor="middle" fill="#111" font-weight="bold" textLength="36.50" lengthAdjust="spacingAndGlyphs" stroke="#111" stroke-width="0.35">Positive</text>
<text x="288.95" y="306.2" font-size="9.9" text-anchor="middle" fill="#111" font-weight="bold" textLength="8.30" lengthAdjust="spacingAndGlyphs" stroke="#111" stroke-width="0.35">in</text>
<text x="304.45" y="306.2" font-size="9.9" text-anchor="middle" fill="#111" font-weight="bold" textLength="17.50" lengthAdjust="spacingAndGlyphs" stroke="#111" stroke-width="0.35">CLL</text>
<text x="327.45" y="306.2" font-size="9.9" text-anchor="middle" fill="#111" font-weight="bold" textLength="23.10" lengthAdjust="spacingAndGlyphs" stroke="#111" stroke-width="0.35">Cells</text>
</svg>
<div class="g" style="left:1px;top:1px;width:518px;height:1px"></div>
<div class="g" style="left:1px;top:1px;width:1px;height:549px"></div>
<div class="g" style="right:1px;top:1px;width:1px;height:549px"></div>
<div class="g" style="left:1px;bottom:1px;width:518px;height:1px"></div>
<div class="b" style="left:0;top:0;width:520px;height:1px"></div>
<div class="b" style="left:0;top:0;width:1px;height:551px"></div>
<div class="b" style="right:0;top:0;width:1px;height:551px"></div>
<div class="b" style="left:0;bottom:0;width:520px;height:1px"></div>
</body></html>
